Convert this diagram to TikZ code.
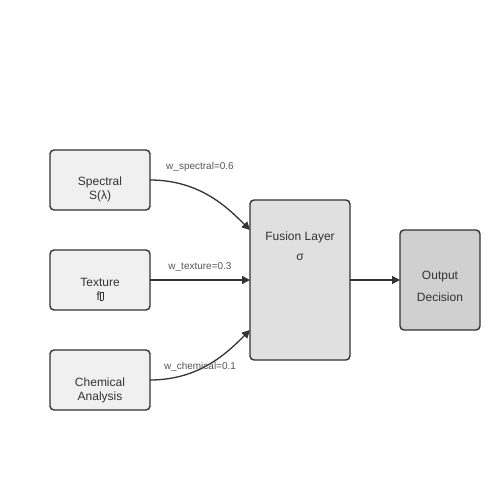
\documentclass[tikz,border=0pt]{standalone}
\usepackage{fontspec}
\setmainfont{Liberation Sans}
\usetikzlibrary{arrows.meta}
\definecolor{edgec}{HTML}{333333}
\definecolor{txtc}{HTML}{333333}
\definecolor{lblc}{HTML}{555555}
\definecolor{fillA}{HTML}{F0F0F0}
\definecolor{fillB}{HTML}{E0E0E0}
\definecolor{fillC}{HTML}{D0D0D0}
\newcommand\tofubox{{\setlength\fboxsep{0pt}\setlength\fboxrule{0.4pt}\fbox{\phantom{\rule{2.6pt}{8pt}}}}}
\begin{document}
\begin{tikzpicture}[x=1pt,y=-1pt,
  box/.style={draw=edgec,line width=1.4pt,rounded corners=4pt,inner sep=0pt,outer sep=0pt},
  boxtext/.style={text=txtc,font=\fontsize{12pt}{14pt}\selectfont,inner sep=0pt},
  wlabel/.style={text=lblc,font=\fontsize{10pt}{12pt}\selectfont,inner sep=0pt},
  conn/.style={draw=edgec,line width=1.3pt,-{Triangle[length=8pt,width=8pt]}}]
\useasboundingbox[fill=white] (0,0) rectangle (500,500);
% boxes
\node[box,fill=fillA,minimum width=100pt,minimum height=60pt] (spec) at (100,180) {};
\node[box,fill=fillA,minimum width=100pt,minimum height=60pt] (tex) at (100,280) {};
\node[box,fill=fillA,minimum width=100pt,minimum height=60pt] (chem) at (100,380) {};
\node[box,fill=fillB,minimum width=100pt,minimum height=160pt] (fus) at (300,280) {};
\node[box,fill=fillC,minimum width=80pt,minimum height=100pt] (out) at (440,280) {};
% texts
\node[boxtext] (t1a) at (100,182) {Spectral};
\node[boxtext] (t1b) at (100,196) {S(λ)};
\node[boxtext] (t2a) at (100,282) {Texture};
\node[boxtext] (t2b) at (100,296) {f\tofubox};
\node[boxtext] (t3a) at (100,382) {Chemical};
\node[boxtext] (t3b) at (100,397) {Analysis};
\node[boxtext] (t4a) at (300,237) {Fusion Layer};
\node[boxtext] (t4b) at (300,257) {σ};
\node[boxtext] (t5a) at (440,277) {Output};
\node[boxtext] (t5b) at (440,297) {Decision};
% connectors
\coordinate (fin1) at (250,230);
\coordinate (fin2) at (250,280);
\coordinate (fin3) at (250,330);
\draw[conn] (spec.east) .. controls (200,180) and (228,208) .. (fin1);
\draw[conn] (tex.east) -- (fin2);
\draw[conn] (chem.east) .. controls (200,380) and (228,352) .. (fin3);
\draw[conn] (fus.east) -- (out.west);
% weights
\node[wlabel] (w1) at (200,167) {w\_spectral=0.6};
\node[wlabel] (w2) at (200,267) {w\_texture=0.3};
\node[wlabel] (w3) at (200,367) {w\_chemical=0.1};
\end{tikzpicture}
\end{document}
